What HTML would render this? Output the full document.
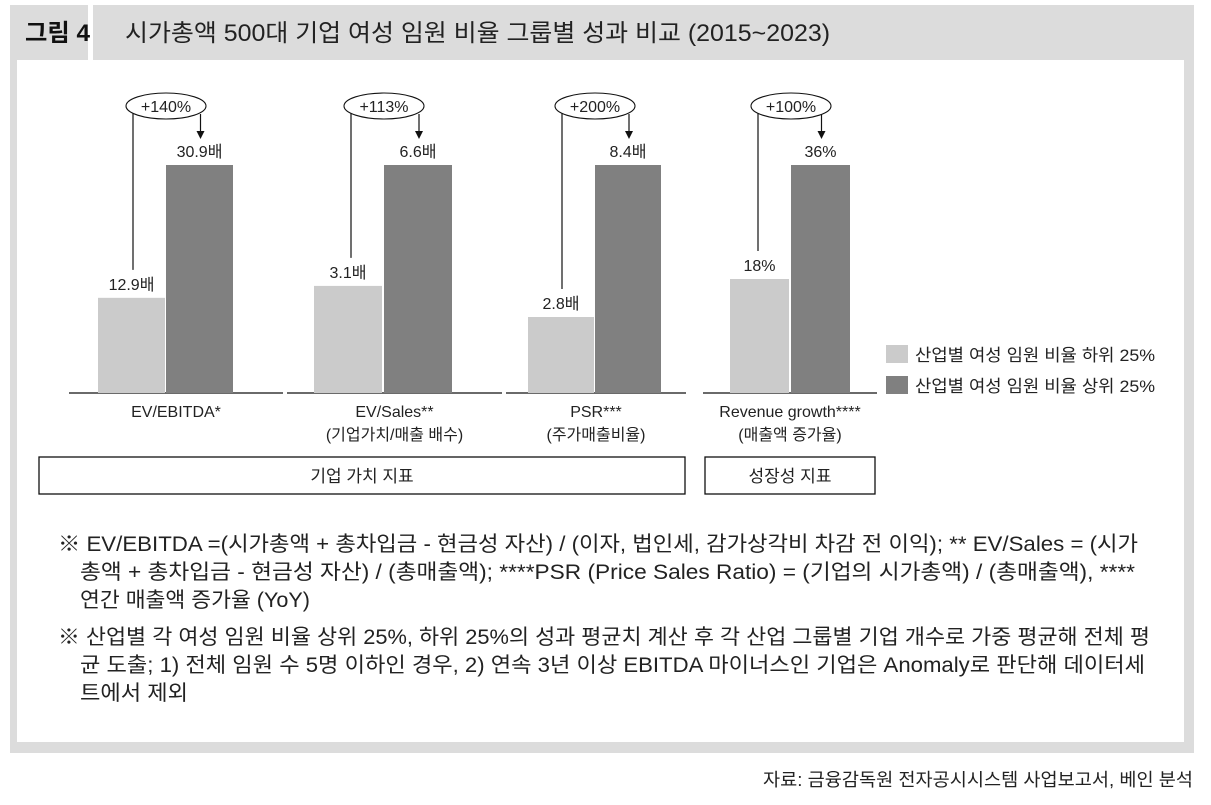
<!DOCTYPE html>
<html><head><meta charset="utf-8"><style>
body{margin:0;background:#fff}
svg{display:block;font-family:"Liberation Sans","Noto Sans CJK KR",sans-serif}
</style></head><body>
<svg id="c" width="1211" height="805" viewBox="0 0 1211 805">
<rect x="10" y="5" width="1184" height="748" fill="#dcdcdc"/>
<rect x="88" y="5" width="5" height="55" fill="#fff"/>
<rect x="17" y="60" width="1167" height="682" fill="#fff"/>
<text x="25" y="41" font-size="24" font-weight="bold" fill="#111" textLength="65" lengthAdjust="spacingAndGlyphs">그림 4</text>
<text x="125" y="41" font-size="24" fill="#222" textLength="705" lengthAdjust="spacingAndGlyphs">시가총액 500대 기업 여성 임원 비율 그룹별 성과 비교 (2015~2023)</text>
<g id="bars"></g>
<rect x="39" y="457" width="646" height="37" fill="none" stroke="#111" stroke-width="1.3"/>
<text x="362" y="482" font-size="17" text-anchor="middle" fill="#222">기업  가치  지표</text>
<rect x="705" y="457" width="170" height="37" fill="none" stroke="#111" stroke-width="1.3"/>
<text x="790" y="482" font-size="17" text-anchor="middle" fill="#222">성장성  지표</text>
<rect x="886" y="345" width="22" height="18" fill="#cbcbcb"/>
<text x="915" y="361" font-size="17" fill="#222" textLength="240" lengthAdjust="spacingAndGlyphs">산업별 여성 임원 비율 하위 25%</text>
<rect x="886" y="376" width="22" height="18" fill="#808080"/>
<text x="915" y="392" font-size="17" fill="#222" textLength="240" lengthAdjust="spacingAndGlyphs">산업별 여성 임원 비율 상위 25%</text>
<g font-size="21" fill="#222">
<text x="58" y="551" textLength="1080" lengthAdjust="spacingAndGlyphs">※ EV/EBITDA =(시가총액 + 총차입금 - 현금성 자산) / (이자, 법인세, 감가상각비 차감 전 이익); ** EV/Sales = (시가</text>
<text x="80" y="579" textLength="1055" lengthAdjust="spacingAndGlyphs">총액 + 총차입금 - 현금성 자산) / (총매출액); ****PSR (Price Sales Ratio) = (기업의 시가총액) / (총매출액), ****</text>
<text x="80" y="607" textLength="230" lengthAdjust="spacingAndGlyphs">연간 매출액 증가율 (YoY)</text>
<text x="58" y="644" textLength="1092" lengthAdjust="spacingAndGlyphs">※ 산업별 각 여성 임원 비율 상위 25%, 하위 25%의 성과 평균치 계산 후 각 산업 그룹별 기업 개수로 가중 평균해 전체 평</text>
<text x="80" y="672" textLength="1065" lengthAdjust="spacingAndGlyphs">균 도출; 1) 전체 임원 수 5명 이하인 경우, 2) 연속 3년 이상 EBITDA 마이너스인 기업은 Anomaly로 판단해 데이터세</text>
<text x="80" y="700" textLength="108" lengthAdjust="spacingAndGlyphs">트에서 제외</text>
</g>
<text x="1193" y="786" font-size="18" text-anchor="end" fill="#222" textLength="430" lengthAdjust="spacingAndGlyphs">자료: 금융감독원 전자공시시스템 사업보고서, 베인 분석</text>
</svg>
<script>
const categories=["EV/EBITDA*","EV/Sales**","PSR***","Revenue growth****"];
const subLabels=["","(기업가치/매출 배수)","(주가매출비율)","(매출액 증가율)"];
const lowValues=[12.9,3.1,2.8,18];
const highValues=[30.9,6.6,8.4,36];
const lowLabels=["12.9배","3.1배","2.8배","18%"];
const highLabels=["30.9배","6.6배","8.4배","36%"];
const changeLabels=["+140%","+113%","+200%","+100%"];
const NS="http://www.w3.org/2000/svg";
const g=document.getElementById('bars');
const axes=[[69,283],[287,502],[506,686],[703,877]];
const barX=[[98,166],[314,384],[528,595],[730,791]];
const barW=[67,68,66,59];
const base=393, fullH=228;
function y(v,max){return base-v/max*fullH;}
function mk(t,a){const e=document.createElementNS(NS,t);for(const k in a)e.setAttribute(k,a[k]);g.appendChild(e);return e;}
categories.forEach((c,i)=>{
  const max=highValues[i];
  const ax=mk('line',{x1:axes[i][0],x2:axes[i][1],y1:base,y2:base,stroke:'#111','stroke-width':1.3});
  
  
  const yl=y(lowValues[i],max), yh=y(highValues[i],max);
  const b1=mk('rect',{x:barX[i][0],y:yl,width:barW[i],height:base-yl,fill:'#cbcbcb'});
  
  
  const b2=mk('rect',{x:barX[i][1],y:yh,width:barW[i],height:base-yh,fill:'#808080'});
  
  
  const cxL=barX[i][0]+barW[i]/2, cxH=barX[i][1]+barW[i]/2;
  const t1=mk('text',{x:cxL,y:yl-8,'font-size':16,'text-anchor':'middle',fill:'#222'});t1.textContent=lowLabels[i];
  
  
  const t2=mk('text',{x:cxH,y:yh-8,'font-size':16,'text-anchor':'middle',fill:'#222'});t2.textContent=highLabels[i];
  
  
  const ex=barX[i][1], ey=106;
  const lx=ex-33;
  const ln=mk('line',{x1:lx,x2:lx,y1:ey+6,y2:yl-28,stroke:'#111','stroke-width':1.2});
  
  
  const ax2=cxH+1;
  const ar=mk('line',{x1:ax2,x2:ax2,y1:ey+8,y2:132,stroke:'#111','stroke-width':1.2});
  
  
  const ah=mk('path',{d:`M${ax2-4},131 L${ax2+4},131 L${ax2},139 Z`,fill:'#111'});
  
  
  const el=mk('ellipse',{cx:ex,cy:ey,rx:40,ry:13,fill:'#fff',stroke:'#111','stroke-width':1.1});
  
  
  const ct=mk('text',{x:ex,y:ey+6,'font-size':16,'text-anchor':'middle',fill:'#222'});ct.textContent=changeLabels[i];
  
  
  const mid=(axes[i][0]+axes[i][1])/2;
  const cl=mk('text',{x:mid,y:417,'font-size':16,'text-anchor':'middle',fill:'#222'});cl.textContent=c;
  
  
  if(subLabels[i]){const sl=mk('text',{x:mid,y:440,'font-size':16,'text-anchor':'middle',fill:'#222'});sl.textContent=subLabels[i];
  
  }
});
</script>
</body></html>
